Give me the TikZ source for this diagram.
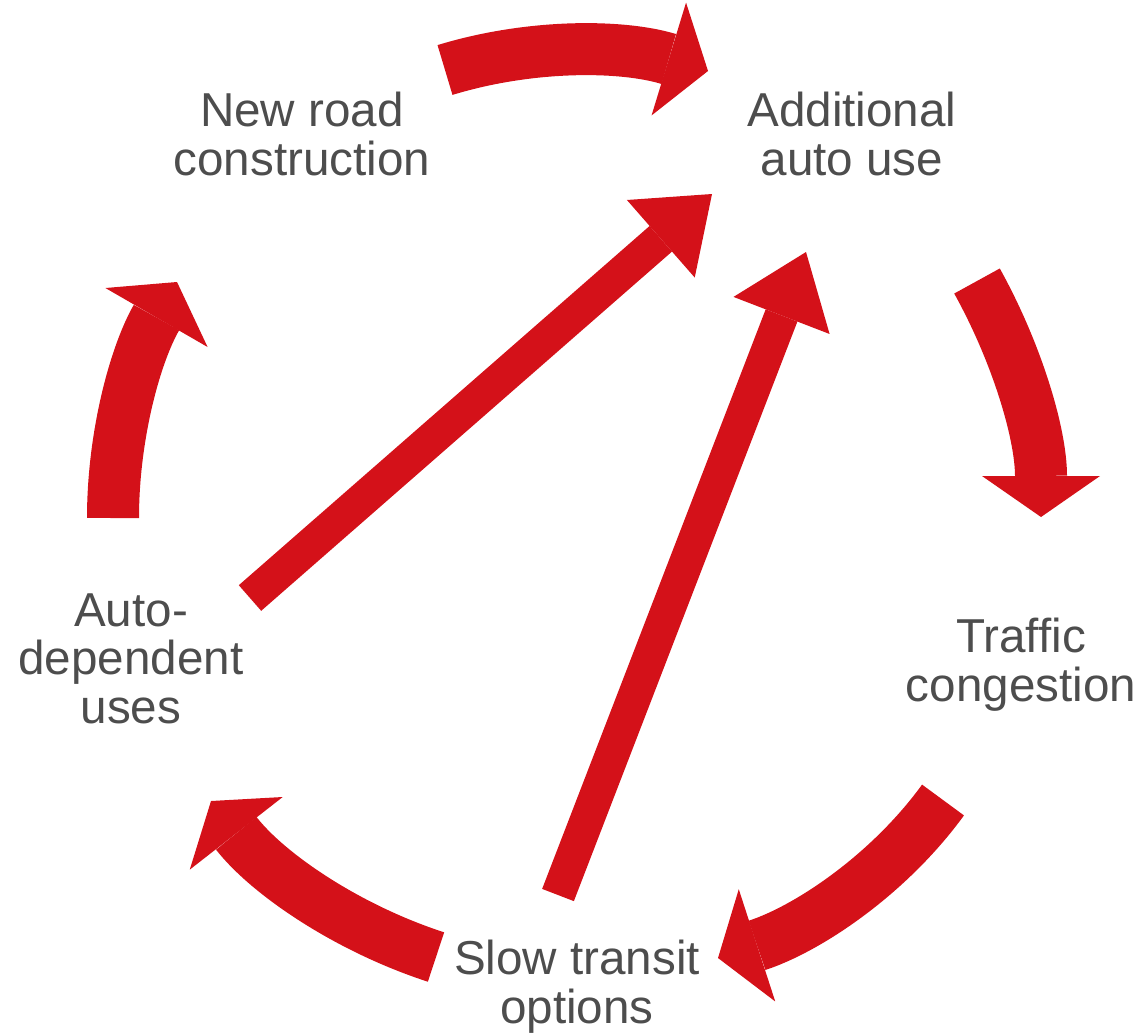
\documentclass[tikz,border=0pt]{standalone}
\usepackage{fontspec}
\setmainfont{Liberation Sans}
\usetikzlibrary{arrows.meta}
\definecolor{cyclered}{RGB}{212,17,25}
\definecolor{textgray}{RGB}{77,77,77}
\tikzset{
    stagetext/.style={anchor=north, inner sep=0pt, align=center, text=textgray,
        font=\fontsize{23.8pt}{24.3pt}\selectfont},
    looparrow/.style={draw=cyclered, line width=26pt, looseness=0.87,
        -{Triangle[width=59pt,length=20.5pt,line width=0pt]}},
    crossarrow/.style={draw=cyclered, line width=17pt,
        -{Triangle[width=51.5pt,length=34pt,line width=0pt]}}
}
\begin{document}
\begin{tikzpicture}[x=0.5pt,y=-0.5pt]
        \useasboundingbox (0,0) rectangle (1143,1033);
        %% stages
        \node[stagetext] (road) at (302,92) {New road\\construction};
        \node[stagetext] (auto) at (852,92) {Additional\\auto use};
        \node[stagetext] (traffic) at (1021,618) {Traffic\\congestion};
        \node[stagetext] (transit) at (577,940) {Slow transit\\options};
        \node[stagetext] (depend) at (131,593) {Auto-\\dependent\\uses};
        %% arrow ends
        \foreach \n/\x/\y in {roadOut/445/70, autoIn/708/71, autoOut/977/281,
            trafficIn/1041/517, trafficOut/943/800, transitIn/718/958,
            transitOut/436/957, dependIn/211/801, dependOut/113/518, roadIn/177/282,
            dependCross/250/598, autoCrossA/712/194, transitCross/558/895, autoCrossB/806/252}
            \coordinate (\n) at (\x,\y);
        %% the cycle (angles of to[] are taken on the page)
        \draw[looparrow] (roadOut) to[out=17,in=163] (autoIn);
        \draw[looparrow] (autoOut) to[out=-61,in=90] (trafficIn);
        \draw[looparrow] (trafficOut) to[out=-126,in=18] (transitIn);
        \draw[looparrow] (transitOut) to[out=162,in=-52] (dependIn);
        \draw[looparrow] (dependOut) to[out=90,in=-120] (roadIn);
        %% shortcuts back to auto use
        \draw[crossarrow] (dependCross) -- (autoCrossA);
        \draw[crossarrow] (transitCross) -- (autoCrossB);
    \end{tikzpicture}
\end{document}
